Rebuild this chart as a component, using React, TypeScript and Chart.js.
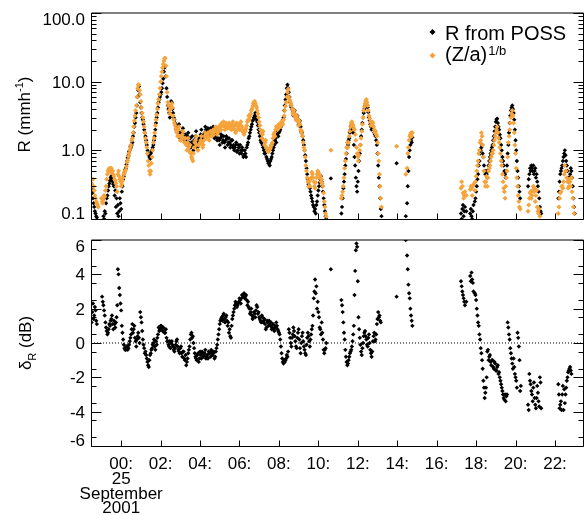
import React, { useEffect, useRef } from 'react';
import { Chart, registerables } from 'chart.js';

Chart.register(...registerables);

const _ = null;

// Samples every 2 minutes from 22:30 on 24 September 2001, stored as two
// interleaved 4-minute series (even minute / odd slot +2 min).
// Hours are counted from midnight of 25 September (negative = previous day).
const START_HOUR = -1.5;
const STEP_HOURS = 4 / 60;
const HALF_STEP_HOURS = 2 / 60;
const X_MIN = -1.53;
const X_MAX = 23.42;

// Rain rate measured by POSS (mm/h), one row per hour starting at hh:30
const possRain: (number | null)[] = [
  0.28, 0.2, 0.15, 0.12, 0.105, _, _, _, _, 0.11, 0.13, 0.17, 0.22, 0.3, 0.36, // 22:30
  0.42, 0.35, 0.3, 0.26, 0.2, 0.16, 0.13, 0.17, 0.25, 0.38, 0.48, 0.55, 0.7, 0.85, 1.0, // 23:30
  1.1, 1.3, 1.8, 2.5, 3.5, 6.0, 8.5, 5.0, 3.5, 2.8, 2.0, 1.6, 1.2, 0.9, 0.8, // 00:30
  0.9, 1.0, 1.2, 1.6, 2.5, 3.5, 5.0, 6.0, 7.0, 9.5, 14, 17, 8.0, 4.5, 3.5, // 01:30
  4.5, 5.0, 3.5, 2.8, 2.3, 2.0, 2.2, 1.8, 1.6, 1.9, 1.7, 1.5, 1.4, 1.6, 1.3, // 02:30
  1.5, 1.3, 1.2, 1.4, 1.6, 1.3, 1.2, 1.5, 1.7, 1.6, 1.5, 1.8, 2.0, 1.9, 1.8, // 03:30
  1.8, 2.0, 1.9, 1.7, 1.8, 1.6, 1.5, 1.4, 1.5, 1.6, 1.4, 1.3, 1.4, 1.5, 1.3, // 04:30
  1.3, 1.2, 1.4, 1.2, 1.1, 1.3, 1.0, 1.1, 1.2, 0.9, 1.0, 0.85, 0.9, 1.1, 1.3, // 05:30
  1.6, 2.0, 2.4, 2.8, 3.2, 3.0, 2.6, 2.0, 1.6, 1.3, 1.2, 1.0, 0.9, 0.8, 0.7, // 06:30
  0.65, 0.7, 0.8, 1.0, 1.2, 1.5, 1.7, 1.6, 1.9, 2.2, 2.5, 3.0, 4.5, 6.5, 9.0, // 07:30
  7.0, 5.0, 4.2, 3.8, 3.5, 3.3, 3.0, 2.8, 2.5, 2.2, 1.8, 1.4, 1.0, 0.7, 0.45, // 08:30
  0.32, 0.28, 0.22, 0.18, 0.15, 0.14, 0.16, 0.22, 0.3, 0.38, 0.35, 0.25, 0.16, 0.11, _, // 09:30
  _, _, 0.39, _, _, _, _, _, _, _, 0.12, 0.2, 0.35, 0.6, 0.9, // 10:30
  1.2, 1.5, 2.0, 2.4, 1.8, 0.8, 0.4, 0.25, 0.5, 0.9, 1.6, 2.5, 3.5, 4.5, 5.0, // 11:30
  4.2, 3.0, 2.4, 2.0, 2.2, 1.8, 1.6, 1.2, 0.6, 0.3, 0.14, _, _, _, _, // 12:30
  _, _, _, _, _, _, _, 0.65, _, _, _, _, _, _, 0.11, // 13:30
  0.17, 0.5, 1.0, 1.4, 1.55, _, _, _, _, _, _, _, _, _, _, // 14:30
  _, _, _, _, _, _, _, _, _, _, _, _, _, _, _, // 15:30
  _, _, _, _, _, _, _, _, _, _, _, 0.12, 0.14, 0.11, 0.15, // 16:30
  0.13, _, _, 0.12, 0.11, 0.13, _, 0.2, 0.3, 0.45, 0.7, 1.0, 1.2, 0.8, 0.5, // 17:30
  0.5, 0.4, 0.6, 0.8, 1.0, 1.2, 1.6, 2.2, 2.8, 2.5, 2.0, 1.5, 1.0, 0.7, 0.5, // 18:30
  0.4, 0.6, 1.2, 2.5, 3.8, 4.5, 3.5, 2.0, 1.0, 0.5, 0.3, 0.2, _, _, _, // 19:30
  _, _, 0.3, 0.45, 0.5, 0.55, 0.6, 0.5, 0.4, 0.35, 0.25, 0.15, 0.12, _, _, // 20:30
  _, _, _, _, _, _, _, _, _, _, 0.2, 0.35, 0.5, 0.6, 0.8, // 21:30
  1.0, 0.7, 0.5, 0.35, 0.45, 0.5, 0.3, 0.15, _, _, _, _, _, _, _, // 22:30
];

// POSS rain rate, samples 2 minutes after those above
const possRainOdd: (number | null)[] = [
  0.24, 0.17, 0.13, 0.11, _, _, _, _, _, 0.1, 0.12, 0.2, 0.26, 0.33, 0.4, // 22:30
  0.38, 0.32, 0.22, 0.15, 0.12, 0.11, 0.2, 0.14, 0.3, 0.42, 0.52, 0.62, 0.78, 0.95, 1.15, // 23:30
  1.2, 1.6, 2.2, 3.0, 4.5, 7.5, 6.5, 4.2, 3.0, 2.4, 1.8, 1.4, 1.0, 0.85, 0.75, // 00:30
  0.95, 1.1, 1.4, 2.0, 3.0, 4.2, 5.5, 6.5, 8.0, 11, 16, 12, 6.0, 4.0, 3.0, // 01:30
  5.2, 4.0, 3.0, 2.5, 2.0, 1.8, 2.4, 1.5, 1.8, 2.1, 1.4, 1.7, 1.2, 1.8, 1.1, // 02:30
  1.1, 1.6, 1.0, 1.2, 1.9, 1.1, 1.4, 1.3, 2.0, 1.4, 1.7, 2.2, 1.7, 2.1, 1.6, // 03:30
  2.1, 1.7, 2.2, 1.5, 2.0, 1.4, 1.8, 1.2, 1.7, 1.3, 1.6, 1.1, 1.6, 1.2, 1.5, // 04:30
  1.1, 1.4, 1.1, 1.0, 1.2, 0.95, 1.2, 0.9, 1.0, 1.1, 0.8, 1.0, 0.8, 1.2, 1.5, // 05:30
  1.8, 2.2, 2.7, 3.0, 3.5, 2.8, 2.3, 1.8, 1.4, 1.5, 1.1, 0.9, 1.0, 0.75, 0.65, // 06:30
  0.6, 0.75, 0.9, 1.1, 1.4, 1.3, 1.9, 1.8, 2.0, 2.4, 2.8, 3.8, 5.5, 8.0, 8.0, // 07:30
  6.0, 4.5, 4.0, 3.2, 3.8, 2.8, 3.2, 2.4, 2.7, 1.9, 1.6, 1.2, 0.85, 0.55, 0.38, // 08:30
  0.3, 0.25, 0.2, 0.16, 0.13, 0.12, 0.18, 0.26, 0.34, 0.42, 0.3, 0.2, 0.13, 0.1, _, // 09:30
  _, _, _, _, _, _, _, _, _, _, 0.15, 0.28, 0.45, 0.75, 1.1, // 10:30
  1.4, 1.8, 2.3, 2.1, 1.2, 0.6, 0.3, 0.35, 0.7, 1.2, 2.0, 3.0, 4.0, 4.8, 4.6, // 11:30
  3.6, 2.7, 2.2, 2.3, 2.0, 1.7, 1.4, 0.9, 0.4, 0.2, 0.11, _, _, _, _, // 12:30
  _, _, _, _, _, _, _, _, _, _, _, _, _, _, _, // 13:30
  0.3, 0.8, 1.2, 1.3, _, _, _, _, _, _, _, _, _, _, _, // 14:30
  _, _, _, _, _, _, _, _, _, _, _, _, _, _, _, // 15:30
  _, _, _, _, _, _, _, _, _, _, _, 0.1, 0.16, 0.13, _, // 16:30
  _, _, _, 0.14, 0.1, 0.16, 0.18, 0.25, 0.38, 0.6, 0.9, 1.1, 0.9, 0.6, 0.45, // 17:30
  0.45, 0.5, 0.7, 0.9, 1.1, 1.4, 1.9, 2.6, 2.9, 2.2, 1.7, 1.2, 0.8, 0.6, 0.45, // 18:30
  0.5, 0.9, 1.8, 3.2, 4.2, 4.0, 2.8, 1.4, 0.7, 0.4, 0.25, _, _, _, _, // 19:30
  _, _, 0.38, 0.55, 0.6, 0.5, 0.45, 0.55, 0.45, 0.3, 0.2, 0.13, _, _, _, // 20:30
  _, _, _, _, _, _, _, _, _, _, 0.25, 0.45, 0.55, 0.7, 0.9, // 21:30
  0.85, 0.6, 0.4, 0.4, 0.55, 0.4, 0.2, 0.12, _, _, _, _, _, _, _, // 22:30
];

// Rain rate from radar reflectivity, R = (Z/a)^(1/b) (mm/h)
const radarRain: (number | null)[] = [
  0.33, 0.38, 0.26, 0.2, 0.17, 0.15, _, _, 0.18, 0.19, 0.21, 0.3, 0.45, 0.52, 0.55, // 22:30
  0.55, 0.5, 0.42, 0.36, 0.3, 0.45, 0.42, 0.35, 0.32, 0.4, 0.47, 0.52, 0.67, 0.82, 1.0, // 23:30
  1.2, 1.5, 2.2, 3.2, 4.5, 8.0, 9.0, 6.5, 4.2, 3.0, 2.2, 1.5, 1.1, 0.7, 0.5, // 00:30
  0.5, 0.8, 1.3, 1.8, 2.8, 4.0, 5.5, 8.0, 12, 16, 20, 22, 12, 5.0, 3.8, // 01:30
  4.0, 4.8, 3.2, 2.5, 2.1, 1.8, 2.0, 1.6, 1.4, 1.7, 1.5, 1.3, 1.2, 1.3, 1.1, // 02:30
  1.2, 0.8, 0.7, 1.1, 1.4, 1.2, 1.0, 1.2, 1.4, 1.3, 1.2, 1.6, 1.7, 1.6, 1.6, // 03:30
  1.6, 1.8, 1.8, 1.7, 2.0, 1.9, 1.8, 2.0, 2.2, 2.5, 2.3, 2.2, 2.3, 2.4, 2.2, // 04:30
  2.1, 2.2, 2.4, 2.1, 2.0, 2.3, 2.0, 2.2, 2.4, 2.0, 1.9, 1.7, 1.9, 2.3, 2.8, // 05:30
  2.8, 3.4, 4.0, 4.8, 5.2, 4.5, 3.8, 3.0, 2.3, 1.8, 1.7, 1.4, 1.3, 1.1, 1.0, // 06:30
  1.0, 1.1, 1.2, 1.5, 1.8, 2.0, 2.2, 2.1, 2.3, 2.4, 2.6, 2.8, 3.8, 5.0, 7.0, // 07:30
  6.0, 5.2, 4.5, 3.5, 3.8, 3.0, 3.2, 2.6, 2.7, 2.0, 1.9, 1.3, 1.0, 0.6, 0.4, // 08:30
  0.3, 0.3, 0.4, 0.45, 0.35, 0.28, 0.4, 0.5, 0.45, 0.42, 0.38, 0.3, 0.18, 0.12, _, // 09:30
  _, _, 1.0, _, _, _, _, _, _, _, 0.2, 0.25, 0.4, 0.7, 1.1, // 10:30
  1.1, 1.6, 2.2, 2.6, 2.3, 2.0, 1.4, 0.9, 0.7, 1.0, 1.5, 2.4, 3.8, 4.8, 5.5, // 11:30
  4.5, 3.2, 2.6, 2.4, 2.5, 2.0, 1.9, 1.6, 0.9, 0.45, 0.2, _, _, _, _, // 12:30
  _, _, _, _, _, _, _, 1.15, _, _, _, _, _, _, 0.45, // 13:30
  0.55, 1.1, 1.6, 1.8, 1.8, _, _, _, _, _, _, _, _, _, _, // 14:30
  _, _, _, _, _, _, _, _, _, _, _, _, _, _, _, // 15:30
  _, _, _, _, _, _, _, _, _, _, _, 0.28, 0.3, 0.2, 0.25, // 16:30
  0.22, _, _, 0.27, 0.28, 0.3, _, 0.35, 0.5, 0.7, 1.0, 1.4, 1.6, 0.8, 0.35, // 17:30
  0.35, 0.3, 0.5, 0.6, 0.8, 0.9, 1.2, 1.6, 2.0, 1.8, 1.3, 0.9, 0.6, 0.35, 0.25, // 18:30
  0.3, 0.5, 1.3, 2.0, 3.0, 3.8, 2.5, 1.2, 0.55, 0.3, 0.18, 0.14, _, _, _, // 19:30
  _, _, 0.13, 0.2, 0.25, 0.22, 0.3, 0.28, 0.22, 0.15, 0.12, 0.11, _, _, _, // 20:30
  _, _, _, _, _, _, _, _, _, _, 0.12, 0.2, 0.25, 0.3, 0.35, // 21:30
  0.6, 0.5, 0.35, 0.3, 0.35, 0.4, 0.2, 0.12, _, _, _, _, _, _, _, // 22:30
];

// Radar rain rate, samples 2 minutes after those above
const radarRainOdd: (number | null)[] = [
  0.3, 0.3, 0.22, 0.18, 0.16, _, _, 0.2, 0.17, 0.22, 0.26, 0.38, 0.5, 0.55, 0.48, // 22:30
  0.5, 0.45, 0.38, 0.33, 0.25, 0.5, 0.38, 0.3, 0.36, 0.45, 0.5, 0.58, 0.72, 0.9, 1.1, // 23:30
  1.4, 1.8, 2.7, 3.8, 6.0, 9.0, 7.5, 5.2, 3.5, 2.6, 1.8, 1.3, 0.9, 0.6, 0.45, // 00:30
  0.65, 1.0, 1.5, 2.3, 3.3, 4.8, 6.5, 10, 14, 18, 22, 17, 7.0, 4.5, 3.4, // 01:30
  4.5, 4.2, 2.8, 2.3, 1.9, 1.6, 2.2, 1.4, 1.6, 1.9, 1.3, 1.5, 1.0, 1.5, 0.95, // 02:30
  0.9, 0.75, 0.9, 1.3, 1.6, 1.0, 1.2, 1.3, 1.6, 1.1, 1.4, 1.8, 1.5, 1.8, 1.4, // 03:30
  1.9, 1.6, 2.0, 1.9, 2.2, 1.7, 2.1, 2.3, 2.0, 2.3, 2.6, 2.0, 2.5, 2.1, 2.5, // 04:30
  2.4, 2.0, 2.6, 2.3, 1.8, 2.5, 2.2, 2.0, 2.6, 2.2, 1.8, 2.0, 2.1, 2.6, 3.2, // 05:30
  3.1, 3.8, 4.4, 5.0, 4.8, 4.2, 3.4, 2.6, 2.0, 1.5, 1.9, 1.2, 1.4, 1.0, 0.95, // 06:30
  1.05, 1.2, 1.3, 1.7, 1.6, 2.2, 2.0, 2.4, 2.2, 2.6, 2.4, 3.2, 4.4, 6.0, 7.8, // 07:30
  5.5, 4.8, 4.0, 3.3, 3.4, 2.8, 2.9, 2.3, 2.4, 1.8, 1.6, 1.1, 0.8, 0.5, 0.35, // 08:30
  0.35, 0.38, 0.48, 0.4, 0.3, 0.34, 0.45, 0.48, 0.4, 0.35, 0.33, 0.24, 0.15, 0.11, _, // 09:30
  _, _, _, _, _, _, _, _, _, _, 0.22, 0.3, 0.55, 0.9, 1.3, // 10:30
  1.3, 1.9, 2.5, 2.4, 2.1, 1.7, 1.1, 0.8, 0.85, 1.2, 1.9, 3.0, 4.3, 5.2, 5.0, // 11:30
  3.8, 2.9, 2.3, 2.6, 2.2, 1.8, 1.7, 1.3, 0.7, 0.3, 0.15, _, _, _, _, // 12:30
  _, _, _, _, _, _, _, _, _, _, _, _, _, _, _, // 13:30
  0.9, 1.4, 1.7, 1.6, _, _, _, _, _, _, _, _, _, _, _, // 14:30
  _, _, _, _, _, _, _, _, _, _, _, _, _, _, _, // 15:30
  _, _, _, _, _, _, _, _, _, _, _, 0.35, 0.24, 0.22, _, // 16:30
  _, _, _, 0.3, 0.22, 0.32, 0.26, 0.42, 0.6, 0.9, 1.3, 1.8, 1.2, 0.5, 0.3, // 17:30
  0.42, 0.4, 0.55, 0.7, 0.9, 1.0, 1.4, 1.8, 2.2, 1.5, 1.1, 0.7, 0.45, 0.28, 0.2, // 18:30
  0.4, 0.8, 1.6, 2.5, 3.4, 3.2, 1.8, 0.9, 0.4, 0.22, 0.15, _, _, _, _, // 19:30
  _, _, 0.16, 0.24, 0.2, 0.26, 0.25, 0.18, 0.26, 0.13, 0.14, _, _, _, _, // 20:30
  _, _, _, _, _, _, _, _, _, _, 0.15, 0.24, 0.3, 0.28, 0.45, // 21:30
  0.5, 0.4, 0.28, 0.38, 0.3, 0.25, 0.15, _, _, _, _, _, _, _, _, // 22:30
];

// Rain-rate difference delta_R (dB)
const deltaR: (number | null)[] = [
  1.2, 2.3, 1.6, 1.9, 1.1, _, _, _, 2.7, 2.2, 1.6, 0.9, 0.5, 0.8, 1.0, // 22:30
  1.4, 1.1, 1.3, 0.9, 1.5, 4.3, 3.2, 2.3, 1.0, 0.2, -0.3, -0.4, -0.2, -0.3, 0.1, // 23:30
  0.5, 1.1, 0.8, 0.3, -0.2, 0.4, 0.3, 1.8, 1.2, 0.2, -0.3, -0.5, -0.9, -1.3, -1.0, // 00:30
  -0.6, -0.3, 0.0, -0.2, 0.1, 0.3, 0.9, 0.8, 1.0, 0.7, 0.8, 0.6, 0.3, 0.1, -0.2, // 01:30
  -0.3, 0.1, -0.2, -0.5, -0.1, 0.2, -0.4, -0.6, -0.2, -0.8, -0.5, -1.0, -1.3, -0.9, -0.4, // 02:30
  0.2, 0.6, 0.4, -0.3, -0.8, -1.0, -0.6, -0.9, -0.7, -0.5, -0.8, -0.6, -0.9, -0.7, -0.5, // 03:30
  -0.6, -0.4, -0.7, -0.5, -0.8, -0.3, 0.2, 0.8, 1.3, 1.5, 1.6, 1.4, 1.5, 1.3, 1.2, // 04:30
  0.8, 0.3, 1.4, 1.8, 2.2, 2.3, 2.2, 2.4, 2.5, 2.6, 2.8, 2.9, 2.7, 2.5, 2.4, // 05:30
  2.0, 1.8, 1.6, 1.5, 1.7, 1.9, 2.1, 1.8, 1.4, 1.2, 1.5, 1.3, 1.1, 0.9, 1.2, // 06:30
  1.3, 1.0, 0.8, 1.1, 0.7, 0.9, 1.0, 0.7, 0.5, -0.2, -0.9, -1.2, -1.1, -0.9, -0.8, // 07:30
  0.8, 0.3, -0.2, 0.5, 0.7, 0.1, -0.3, 0.6, 0.2, -0.6, 0.4, 0.1, -0.4, -0.7, 0.3, // 08:30
  0.4, -0.2, 0.5, 1.0, 2.6, 3.7, 3.3, 2.4, 1.5, 0.8, 1.2, 0.2, -0.6, -0.3, _, // 09:30
  _, _, 4.3, _, _, _, _, _, _, _, 2.5, 1.8, 0.6, -0.4, -1.1, // 10:30
  -1.2, -0.8, -0.5, -0.2, 0.5, 2.8, 5.4, 5.6, 1.5, 0.3, -0.5, -0.3, 0.4, 0.7, 0.2, // 11:30
  -0.2, 0.5, -0.4, -0.8, 0.1, 0.6, 0.2, 1.1, 1.8, 1.6, 1.2, _, _, _, _, // 12:30
  _, _, _, _, _, _, _, 2.7, _, _, _, _, _, _, 6.0, // 13:30
  5.1, 3.4, 2.6, 1.6, 1.0, _, _, _, _, _, _, _, _, _, _, // 14:30
  _, _, _, _, _, _, _, _, _, _, _, _, _, _, _, // 15:30
  _, _, _, _, _, _, _, _, _, _, _, 3.6, 3.0, 2.6, 2.2, // 16:30
  2.4, _, _, 3.9, 4.1, 3.5, _, 2.8, 2.0, 1.2, 0.5, -0.3, -1.0, -2.2, -3.2, // 17:30
  -2.6, -0.5, -1.0, -0.7, -1.3, -1.0, -1.5, -1.2, -1.6, -1.3, -1.7, -2.2, -2.6, -3.0, -3.3, // 18:30
  -3.4, -3.0, 0.9, 0.2, -0.6, -1.2, -0.9, -1.8, -2.2, 0.6, -0.2, -2.8, _, _, _, // 19:30
  _, _, -3.6, -1.8, -2.4, -3.0, -2.6, -3.2, -3.8, -2.5, -3.4, -2.0, -3.8, _, _, // 20:30
  _, _, _, _, _, _, _, _, _, _, -2.4, -3.8, -3.4, -3.0, -3.9, // 21:30
  -3.5, -2.6, -2.0, -1.6, -1.4, -1.8, _, _, _, _, _, _, _, _, _, // 22:30
];

// delta_R, samples 2 minutes after those above
const deltaROdd: (number | null)[] = [
  1.8, 1.4, 2.1, 1.3, _, _, _, _, 2.4, 1.9, 1.2, 0.7, 0.6, 1.1, 1.3, // 22:30
  1.6, 0.8, 1.1, 1.2, 2.2, 4.0, 2.8, 1.9, 0.6, -0.1, -0.4, -0.2, -0.4, -0.1, 0.3, // 23:30
  0.8, 0.6, 1.0, 0.1, 0.2, 0.6, 0.0, 1.5, 0.7, -0.1, -0.6, -0.7, -1.1, -1.4, -0.7, // 00:30
  -0.4, -0.1, 0.2, -0.4, -0.1, 0.5, 0.7, 1.0, 0.9, 0.9, 0.6, 0.8, 0.1, -0.1, 0.1, // 01:30
  0.0, -0.1, -0.4, -0.3, 0.1, -0.2, -0.5, -0.3, -0.6, -0.5, -0.9, -0.7, -1.1, -0.6, -0.2, // 02:30
  0.5, 0.3, 0.0, -0.6, -0.9, -0.7, -1.1, -0.5, -0.9, -0.6, -0.7, -0.4, -0.8, -0.9, -0.6, // 03:30
  -0.8, -0.5, -0.6, -0.9, -0.5, -0.1, 0.5, 1.1, 1.4, 1.3, 1.7, 1.2, 1.6, 1.0, 0.6, // 04:30
  0.4, 1.0, 1.6, 2.0, 2.4, 2.1, 2.3, 2.6, 2.3, 2.8, 2.7, 2.6, 2.8, 2.2, 2.1, // 05:30
  1.7, 2.0, 1.4, 1.8, 1.5, 2.2, 1.7, 1.5, 1.3, 1.6, 1.2, 1.4, 0.8, 1.3, 1.0, // 06:30
  1.1, 1.2, 0.9, 0.8, 1.0, 1.2, 0.8, 0.6, 0.2, -0.6, -1.1, -1.0, -1.0, -0.7, -0.5, // 07:30
  0.6, 0.0, 0.3, 0.9, 0.4, -0.2, 0.3, 0.8, -0.3, 0.0, 0.6, -0.2, -0.6, -0.1, 0.6, // 08:30
  0.1, 0.2, 0.8, 1.6, 3.0, 2.9, 2.0, 1.8, 0.9, 0.5, 0.6, -0.4, -0.4, 0.0, _, // 09:30
  _, _, _, _, _, _, _, _, _, _, 2.2, 1.2, 0.2, -0.8, -1.3, // 10:30
  -1.0, -0.6, -0.4, 0.1, 1.0, 4.2, 5.8, 3.6, 0.8, -0.1, -0.7, 0.0, 0.6, 0.4, -0.1, // 11:30
  0.3, 0.0, -0.6, -0.5, 0.4, 0.1, 0.5, 1.4, 1.5, 1.3, _, _, _, _, _, // 12:30
  _, _, _, _, _, _, _, _, _, _, _, _, _, _, _, // 13:30
  4.3, 2.9, 2.0, 1.3, _, _, _, _, _, _, _, _, _, _, _, // 14:30
  _, _, _, _, _, _, _, _, _, _, _, _, _, _, _, // 15:30
  _, _, _, _, _, _, _, _, _, _, _, 3.3, 2.8, 2.4, _, // 16:30
  _, _, _, 3.6, 3.7, 3.0, 2.9, 2.5, 1.6, 1.0, 0.2, -0.6, -1.5, -2.6, -2.9, // 17:30
  -2.0, -0.4, -0.8, -1.1, -1.0, -1.4, -1.1, -1.6, -1.4, -1.8, -2.0, -2.4, -2.8, -3.2, -3.0, // 18:30
  -3.1, 1.2, 0.5, -0.3, -0.9, -1.5, -1.4, -2.0, -2.6, 0.3, -1.0, -2.5, _, _, _, // 19:30
  _, _, -3.9, -2.2, -2.8, -3.4, -2.3, -3.6, -3.2, -2.9, -3.7, -2.3, _, _, _, // 20:30
  _, _, _, _, _, _, _, _, _, _, -3.0, -3.6, -3.9, -2.5, -2.7, // 21:30
  -3.0, -2.2, -1.7, -1.5, -1.6, _, _, _, _, _, _, _, _, _, _, // 22:30
];

const timeTicks = [0, 2, 4, 6, 8, 10, 12, 14, 16, 18, 20, 22];
const timeTickLabels = ['00:', '02:', '04:', '06:', '08:', '10:', '12:', '14:', '16:', '18:', '20:', '22:'];
const dateLabelLines = ['25', 'September', '2001'];
const rainTicks = [0.1, 1, 10, 100];
const rainTickLabels = ['0.1', '1.0', '10.0', '100.0'];
const deltaTicks = [6, 4, 2, 0, -2, -4, -6];
const deltaTickLabels = ['6', '4', '2', '0', '-2', '-4', '-6'];

const FONT = '"Liberation Sans", Arial, Helvetica, sans-serif';
const TICK_SIZE = 17;
const CAP = 0.716 * TICK_SIZE;
const ORANGE = '#f6a33b';

function toPoints(even: (number | null)[], odd: (number | null)[]) {
  const pts: { x: number; y: number }[] = [];
  even.forEach((v, i) => {
    if (v !== null) pts.push({ x: START_HOUR + i * STEP_HOURS, y: v });
  });
  odd.forEach((v, i) => {
    if (v !== null) pts.push({ x: START_HOUR + i * STEP_HOURS + HALF_STEP_HOURS, y: v });
  });
  return pts;
}

// minor tick positions for the axes
const rainMinor: number[] = [];
[0.1, 1, 10].forEach((d) => {
  for (let k = 2; k <= 9; k++) rainMinor.push(d * k);
});
const deltaMinor: number[] = [];
for (let v = -5.5; v <= 5.5; v += 1) deltaMinor.push(v);

type TitlePart = { text: string; size: number; dy: number };

function drawRotatedTitle(ctx: CanvasRenderingContext2D, parts: TitlePart[], baseX: number, centerY: number) {
  ctx.save();
  ctx.translate(baseX, centerY);
  ctx.rotate(-Math.PI / 2);
  ctx.textAlign = 'left';
  ctx.textBaseline = 'alphabetic';
  const widths = parts.map((p) => {
    ctx.font = `${p.size}px ${FONT}`;
    return ctx.measureText(p.text).width;
  });
  let x = -widths.reduce((s, w) => s + w, 0) / 2;
  parts.forEach((p, i) => {
    ctx.font = `${p.size}px ${FONT}`;
    ctx.fillText(p.text, x, p.dy);
    x += widths[i];
  });
  ctx.restore();
}

function diamond(ctx: CanvasRenderingContext2D, x: number, y: number, r: number, color: string) {
  ctx.fillStyle = color;
  ctx.beginPath();
  ctx.moveTo(x, y - r);
  ctx.lineTo(x + r, y);
  ctx.lineTo(x, y + r);
  ctx.lineTo(x - r, y);
  ctx.closePath();
  ctx.fill();
}

type PanelCfg = {
  id: string;
  majors: number[];
  labels: string[];
  minors: number[];
  title: TitlePart[];
  titleX: number;
  titleShift: number;
  timeLabels: boolean;
  legend: boolean;
};

function framePlugin(cfg: PanelCfg) {
  return {
    id: cfg.id,
    afterDraw(chart: any) {
      const { ctx, chartArea: a } = chart;
      const xs = chart.scales.x;
      const ys = chart.scales.y;
      const L = Math.round(a.left) + 0.5;
      const R = Math.round(a.right) + 0.5;
      const T = Math.round(a.top);
      const B = Math.round(a.bottom) + 0.5;

      ctx.save();
      ctx.strokeStyle = '#000';
      ctx.lineWidth = 1;
      ctx.beginPath();
      ctx.moveTo(L, T);
      ctx.lineTo(R, T);
      ctx.moveTo(L, B);
      ctx.lineTo(R, B);
      ctx.moveTo(L, T);
      ctx.lineTo(L, B);
      ctx.moveTo(R, T);
      ctx.lineTo(R, B);
      cfg.majors.forEach((v) => {
        const y = Math.round(ys.getPixelForValue(v)) + 0.5;
        ctx.moveTo(L, y);
        ctx.lineTo(L + 10, y);
        ctx.moveTo(R, y);
        ctx.lineTo(R - 10, y);
      });
      cfg.minors.forEach((v) => {
        const y = Math.round(ys.getPixelForValue(v)) + 0.5;
        ctx.moveTo(L, y);
        ctx.lineTo(L + 5, y);
        ctx.moveTo(R, y);
        ctx.lineTo(R - 5, y);
      });
      timeTicks.forEach((t) => {
        const x = Math.round(xs.getPixelForValue(t)) + 0.5;
        ctx.moveTo(x, B);
        ctx.lineTo(x, B - 6);
      });
      ctx.stroke();

      // y tick labels
      ctx.fillStyle = '#000';
      ctx.font = `${TICK_SIZE}px ${FONT}`;
      ctx.textAlign = 'right';
      ctx.textBaseline = 'alphabetic';
      cfg.majors.forEach((v, i) => {
        let yc = ys.getPixelForValue(v);
        yc = Math.min(Math.max(yc, a.top + CAP / 2), a.bottom - CAP / 2);
        ctx.fillText(cfg.labels[i], a.left - 6, yc + CAP / 2);
      });

      // time labels
      if (cfg.timeLabels) {
        ctx.textAlign = 'center';
        const base = a.bottom + 23;
        timeTicks.forEach((t, i) => {
          const x = xs.getPixelForValue(t);
          ctx.fillText(timeTickLabels[i], x, base);
          if (t === 0) {
            dateLabelLines.forEach((line, k) => ctx.fillText(line, x, base + 14.8 * (k + 1)));
          }
        });
      }

      ctx.fillStyle = '#000';
      drawRotatedTitle(ctx, cfg.title, cfg.titleX, (a.top + a.bottom) / 2 + cfg.titleShift);

      if (cfg.legend) {
        diamond(ctx, 432.5, 32, 3, '#000');
        diamond(ctx, 432.5, 55.5, 3, ORANGE);
        ctx.fillStyle = '#000';
        ctx.textAlign = 'left';
        ctx.font = `20px ${FONT}`;
        ctx.fillText('R from POSS', 445, 39.5);
        ctx.fillText('(Z/a)', 445, 61);
        const w = ctx.measureText('(Z/a)').width;
        ctx.font = `13px ${FONT}`;
        ctx.fillText('1/b', 445 + w + 1, 54.5);
      }
      ctx.restore();
    },
  };
}

const markerBase = {
  pointStyle: 'rectRot' as const,
  pointBorderWidth: 0,
  showLine: false,
  clip: 0,
};

export default function App() {
  const topRef = useRef<HTMLCanvasElement>(null);
  const bottomRef = useRef<HTMLCanvasElement>(null);

  useEffect(() => {
    const common = {
      responsive: false,
      animation: false as const,
      devicePixelRatio: 1,
      events: [] as any[],
      plugins: { legend: { display: false }, tooltip: { enabled: false } },
    };

    // the radar series is drawn over the POSS series (first dataset is drawn last)
    const rainChart = new Chart(topRef.current!, {
      type: 'scatter',
      data: {
        datasets: [
          { ...markerBase, label: '(Z/a)^1/b', data: toPoints(radarRain, radarRainOdd), backgroundColor: ORANGE, pointRadius: 2.5 },
          { ...markerBase, label: 'R from POSS', data: toPoints(possRain, possRainOdd), backgroundColor: '#000', pointRadius: 2.2 },
        ],
      },
      options: {
        ...common,
        layout: { padding: { left: 91, right: 1, top: 13, bottom: 11 } },
        scales: {
          x: { type: 'linear', min: X_MIN, max: X_MAX, display: false },
          y: { type: 'logarithmic', min: 0.1, max: 100, display: false },
        },
      },
      plugins: [
        framePlugin({
          id: 'rainFrame',
          majors: rainTicks,
          labels: rainTickLabels,
          minors: rainMinor,
          title: [
            { text: 'R (mmh', size: 17, dy: 0 },
            { text: '-1', size: 11, dy: -7 },
            { text: ')', size: 17, dy: 0 },
          ],
          titleX: 29.5,
          titleShift: -1.5,
          timeLabels: false,
          legend: true,
        }),
      ],
    } as any);

    const deltaChart = new Chart(bottomRef.current!, {
      type: 'scatter',
      data: {
        datasets: [
          { ...markerBase, label: 'delta R', data: toPoints(deltaR, deltaROdd), backgroundColor: '#000', pointRadius: 2.2 },
          {
            label: 'zero',
            data: [
              { x: X_MIN, y: 0 },
              { x: X_MAX, y: 0 },
            ],
            showLine: true,
            pointRadius: 0,
            borderColor: '#000',
            borderWidth: 1,
            borderDash: [1, 2],
            clip: 0,
          },
        ],
      },
      options: {
        ...common,
        layout: { padding: { left: 91, right: 1, top: 10, bottom: 69 } },
        scales: {
          x: { type: 'linear', min: X_MIN, max: X_MAX, display: false },
          y: { type: 'linear', min: -6, max: 6, display: false },
        },
      },
      plugins: [
        framePlugin({
          id: 'deltaFrame',
          majors: deltaTicks,
          labels: deltaTickLabels,
          minors: deltaMinor,
          title: [
            { text: 'δ', size: 17, dy: 0 },
            { text: 'R', size: 11, dy: 5 },
            { text: ' (dB)', size: 17, dy: 0 },
          ],
          titleX: 31,
          titleShift: 0,
          timeLabels: true,
          legend: false,
        }),
      ],
    } as any);

    return () => {
      rainChart.destroy();
      deltaChart.destroy();
    };
  }, []);

  return (
    <div style={{ position: 'absolute', left: 0, top: 0, width: 587, height: 515, background: '#fff' }}>
      <canvas ref={topRef} width={587} height={230} style={{ position: 'absolute', left: 0, top: 0 }} />
      <canvas ref={bottomRef} width={587} height={285} style={{ position: 'absolute', left: 0, top: 230 }} />
    </div>
  );
}
